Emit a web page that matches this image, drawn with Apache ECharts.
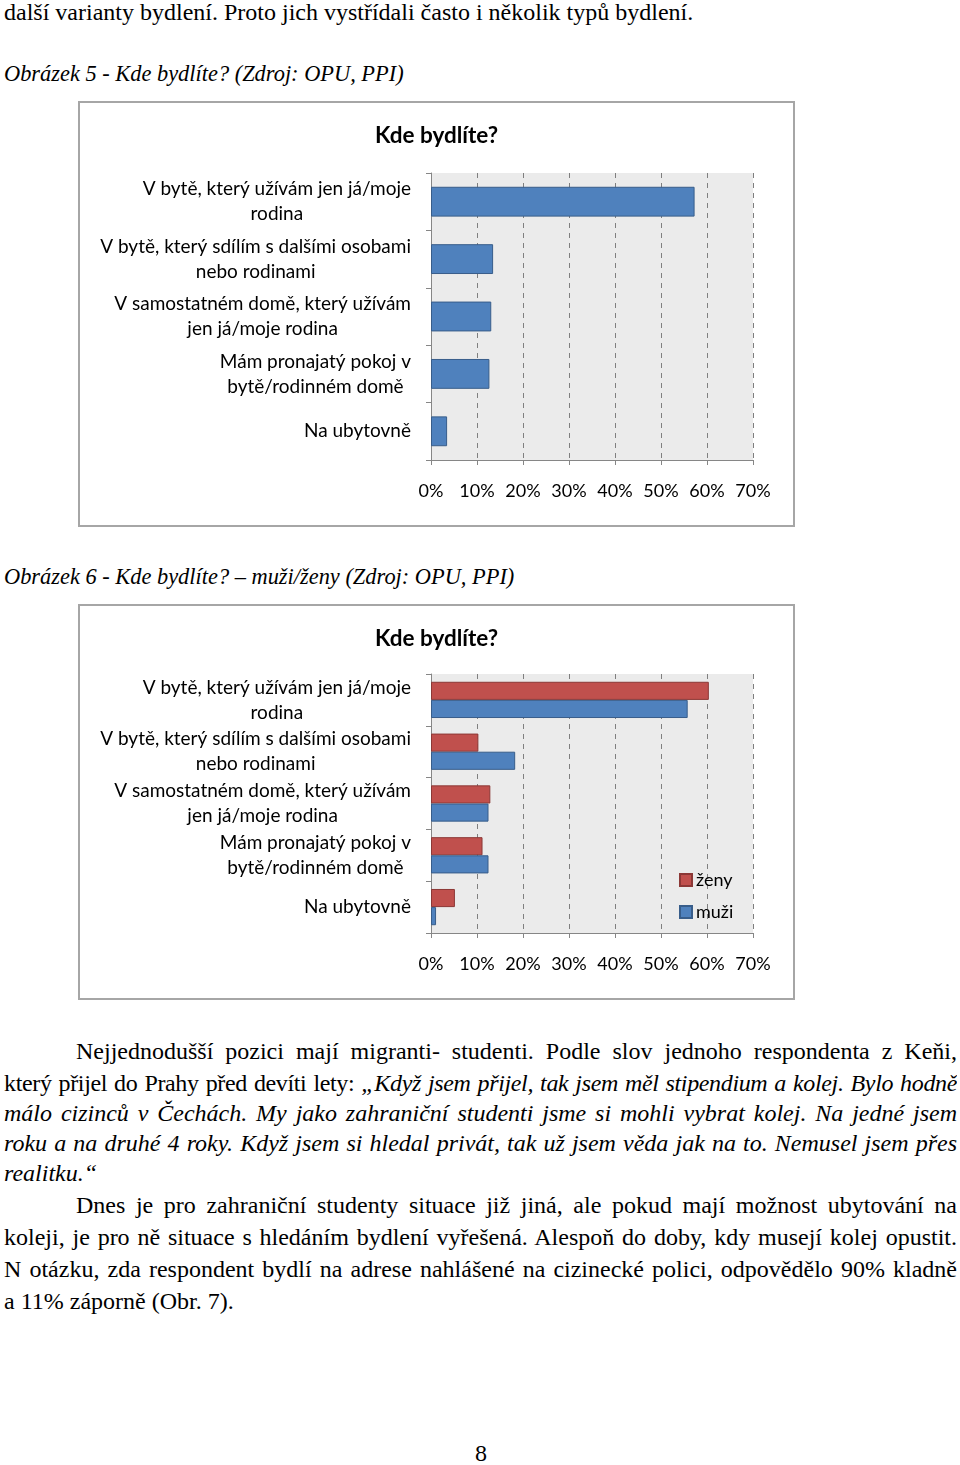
<!DOCTYPE html>
<html><head><meta charset="utf-8">
<script src="https://cdn.jsdelivr.net/npm/echarts/dist/echarts.min.js"></script>
<style>
html,body{margin:0;padding:0}
body{width:960px;height:1465px;position:relative;background:#fff;overflow:hidden;font-family:"Liberation Serif","Times New Roman",serif;color:#000}
.t{position:absolute;left:4px;width:953px;font-size:24px;line-height:32px;white-space:nowrap}
.j{text-align:justify;text-align-last:justify;white-space:normal;height:32px;overflow:hidden}
.ind{left:76px;width:881px}
.cap{font-size:22.4px;line-height:30px;font-style:italic}
.frame{position:absolute;border:2px solid #a6a6a6;box-sizing:border-box;background:#fff}
.chart{position:absolute}
</style></head>
<body>
<div class="t" style="top:-4px">další varianty bydlení. Proto jich vystřídali často i několik typů bydlení.</div>
<div class="t cap" style="top:59px">Obrázek 5 - Kde bydlíte? (Zdroj: OPU, PPI)</div>
<div class="frame" style="left:78px;top:101px;width:717px;height:426px"></div>
<div id="c1" class="chart" style="left:78px;top:101px;width:717px;height:426px"></div>
<div class="t cap" style="top:562px">Obrázek 6 - Kde bydlíte? – muži/ženy (Zdroj: OPU, PPI)</div>
<div class="frame" style="left:78px;top:604px;width:717px;height:396px"></div>
<div id="c2" class="chart" style="left:78px;top:604px;width:717px;height:396px"></div>

<div class="t j ind" style="top:1035px">Nejjednodušší pozici mají migranti- studenti. Podle slov jednoho respondenta z Keňi,</div>
<div class="t j" style="top:1067px;letter-spacing:-0.35px">který přijel do Prahy před devíti lety: <i>„Když jsem přijel, tak jsem měl stipendium a kolej. Bylo hodně</i></div>
<div class="t j" style="top:1097px"><i>málo cizinců v Čechách. My jako zahraniční studenti jsme si mohli vybrat kolej. Na jedné jsem bydlel 1,5</i></div>
<div class="t j" style="top:1127px"><i>roku a na druhé 4 roky. Když jsem si hledal privát, tak už jsem věda jak na to. Nemusel jsem přes</i></div>
<div class="t" style="top:1157px"><i>realitku.“</i></div>
<div class="t j ind" style="top:1189px">Dnes je pro zahraniční studenty situace již jiná, ale pokud mají možnost ubytování na</div>
<div class="t j" style="top:1221px">koleji, je pro ně situace s hledáním bydlení vyřešená. Alespoň do doby, kdy musejí kolej opustit.</div>
<div class="t j" style="top:1253px">N otázku, zda respondent bydlí na adrese nahlášené na cizinecké polici, odpovědělo 90% kladně</div>
<div class="t" style="top:1285px">a 11% záporně (Obr. 7).</div>
<div class="t" style="top:1437px;left:0;width:962px;text-align:center">8</div>

<script>
// ---- data ----
const categories = [
  "V bytě, který užívám jen já/moje\nrodina",
  "V bytě, který sdílím s dalšími osobami\nnebo rodinami",
  "V samostatném domě, který užívám\njen já/moje rodina",
  "Mám pronajatý pokoj v\nbytě/rodinném domě",
  "Na ubytovně"
];
const totalValues = [57.3, 13.5, 13.1, 12.7, 3.5];
const zenyValues = [60.4, 10.3, 12.9, 11.2, 5.2];
const muziValues = [55.8, 18.3, 12.5, 12.5, 1.1];
const seriesNames = ["ženy", "muži"];
const chartTitle = "Kde bydlíte?";
const xMin = 0, xMax = 70, xStep = 10;

// ---- styling ----
const FONT = "Lato";
const blue = {color: "#4f81bd", borderColor: "#385d8a", borderWidth: 1};
const red = {color: "#c0504d", borderColor: "#8c3836", borderWidth: 1};

function yAxisCfg() {
  return {
    type: "category", data: categories, inverse: true,
    axisLine: {show: true, lineStyle: {color: "#868686"}},
    axisTick: {show: true, length: 5, lineStyle: {color: "#868686"}},
    splitLine: {show: false},
    axisLabel: {
      margin: 20, align: "right",
      formatter: v => v.split("\n").map(s => "{c|" + s + "}").join("\n"),
      rich: {c: {align: "center", fontSize: 19, fontFamily: FONT, color: "#000", lineHeight: 25}}
    }
  };
}
function xAxisCfg() {
  return {
    type: "value", min: xMin, max: xMax, interval: xStep,
    axisLine: {show: true, lineStyle: {color: "#868686"}},
    axisTick: {show: true, length: 5, lineStyle: {color: "#868686"}},
    splitLine: {show: true, lineStyle: {color: "#7f7f7f", type: [5, 5], width: 1}},
    axisLabel: {formatter: "{value}%", fontSize: 18, fontFamily: FONT, color: "#000", margin: 22}
  };
}
function titleCfg() {
  return {text: chartTitle, left: "center", top: 18,
    textStyle: {fontSize: 22.5, fontWeight: "bold", fontFamily: FONT, color: "#000"}};
}

const c1 = echarts.init(document.getElementById("c1"));
c1.setOption({
  animation: false,
  title: titleCfg(),
  grid: {left: 353, right: 42, top: 72, bottom: 67, show: true, backgroundColor: "#ebebeb", borderWidth: 0},
  xAxis: xAxisCfg(),
  yAxis: yAxisCfg(),
  series: [{type: "bar", data: totalValues, barCategoryGap: "48%", itemStyle: blue}]
});

const c2 = echarts.init(document.getElementById("c2"));
c2.setOption({
  animation: false,
  title: titleCfg(),
  grid: {left: 353, right: 42, top: 70, bottom: 67, show: true, backgroundColor: "#ebebeb", borderWidth: 0},
  legend: {data: seriesNames, orient: "vertical", left: 596, top: 262, itemWidth: 12, itemHeight: 12, itemGap: 14,
    icon: "rect", textStyle: {fontSize: 18, fontFamily: FONT, color: "#000", padding: [0,0,0,-1]}},
  xAxis: xAxisCfg(),
  yAxis: yAxisCfg(),
  series: [
    {name: seriesNames[0], type: "bar", data: zenyValues, barGap: "0%", barCategoryGap: "30%", itemStyle: red},
    {name: seriesNames[1], type: "bar", data: muziValues, barGap: "0%", barCategoryGap: "30%", itemStyle: blue}
  ]
});
</script>
</body></html>
